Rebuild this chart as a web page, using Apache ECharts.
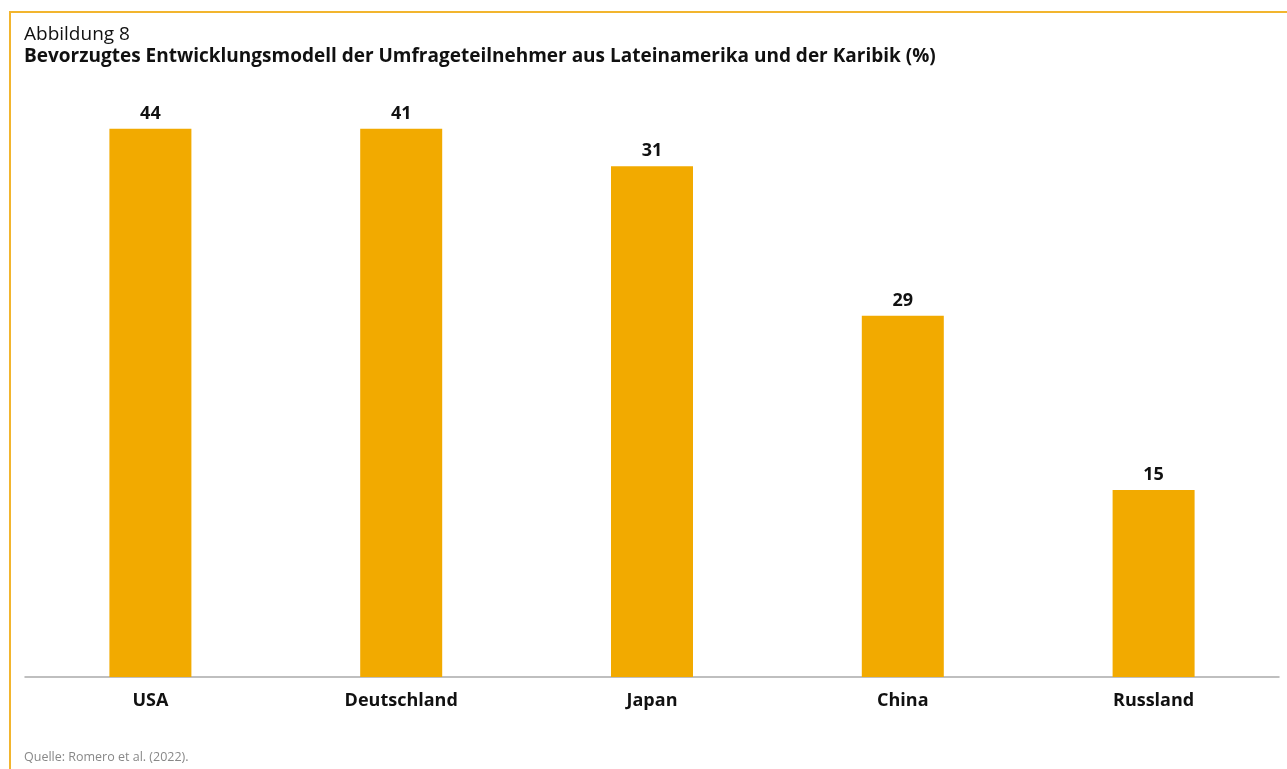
<!DOCTYPE html>
<html>
<head>
<meta charset="utf-8">
<script src="https://cdn.jsdelivr.net/npm/echarts@6/dist/echarts.min.js"></script>
<style>
html,body{margin:0;padding:0;background:#fff;}
#chart{width:1287px;height:769px;}
</style>
</head>
<body>
<div id="chart"></div>
<script>
const categories = ['USA', 'Deutschland', 'Japan', 'China', 'Russland'];
// bar heights as drawn in the reference
const barValues = [44, 44, 41, 29, 15];
// value labels as printed in the reference
const labelTexts = ['44', '41', '31', '29', '15'];

const chart = echarts.init(document.getElementById('chart'));
const font = '"Open Sans", "Noto Sans", sans-serif';
chart.setOption({
  animation: false,
  backgroundColor: '#fff',
  graphic: [
    { type: 'line', shape: { x1: 10, y1: 12, x2: 1287, y2: 12 }, style: { stroke: '#F2B52E', lineWidth: 2 } },
    { type: 'line', shape: { x1: 10, y1: 11, x2: 10, y2: 769 }, style: { stroke: '#F2B52E', lineWidth: 2 } },
    { type: 'text', left: 24, top: 25, style: { text: 'Abbildung 8', font: '19px ' + font, fill: '#111' } },
    { type: 'text', left: 24, top: 47, style: { text: 'Bevorzugtes Entwicklungsmodell der Umfrageteilnehmer aus Lateinamerika und der Karibik (%)', font: 'bold 19px ' + font, fill: '#111' } },
    { type: 'text', left: 24, top: 751, style: { text: 'Quelle: Romero et al. (2022).', font: '12.5px ' + font, fill: '#888' } }
  ],
  grid: { left: 25, right: 8, top: 54, bottom: 92, containLabel: false },
  xAxis: {
    type: 'category',
    data: categories,
    axisLine: { show: true, lineStyle: { color: '#aaa', width: 1.5 } },
    axisTick: { show: false },
    axisLabel: { margin: 15, fontFamily: font, fontWeight: 'bold', fontSize: 18, color: '#111' }
  },
  yAxis: {
    type: 'value',
    min: 0, max: 50,
    show: false,
    splitLine: { show: false }
  },
  series: [{
    type: 'bar',
    data: barValues,
    barWidth: 82,
    itemStyle: { color: '#F2AA00' },
    label: {
      show: true,
      position: 'top',
      distance: 6,
      fontFamily: font,
      fontWeight: 'bold',
      fontSize: 18,
      color: '#111',
      formatter: p => labelTexts[p.dataIndex]
    }
  }]
});
</script>
</body>
</html>
